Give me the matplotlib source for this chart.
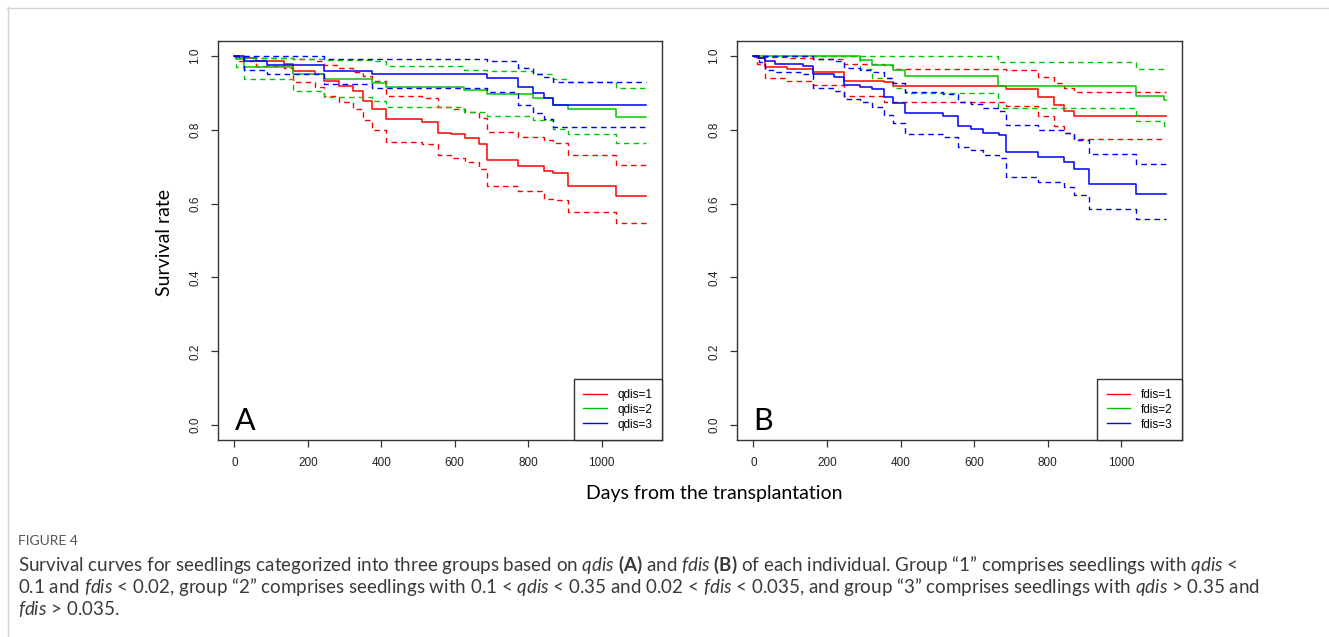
import numpy as np
import matplotlib.pyplot as plt
from matplotlib.lines import Line2D

# kaplan-meier estimates (days, survival, upper / lower 95% CI)
# panel A - qdis groups
a1_days = [0, 12, 59, 134, 160, 219, 245, 285, 322, 351, 376, 412, 512, 554, 591, 627, 666, 687, 772, 842, 868, 910, 1039]
a1_surv = [1.0, 0.993, 0.986, 0.979, 0.958, 0.95, 0.931, 0.918, 0.904, 0.877, 0.855, 0.828, 0.82, 0.792, 0.787, 0.778, 0.76, 0.717, 0.702, 0.688, 0.683, 0.648, 0.62]
a1_upper = [1.0, 0.998, 0.995, 0.993, 0.99, 0.985, 0.975, 0.966, 0.956, 0.945, 0.932, 0.892, 0.886, 0.862, 0.857, 0.849, 0.832, 0.795, 0.781, 0.772, 0.763, 0.731, 0.705]
a1_lower = [1.0, 0.985, 0.972, 0.966, 0.928, 0.916, 0.892, 0.874, 0.857, 0.825, 0.8, 0.767, 0.761, 0.731, 0.724, 0.713, 0.693, 0.647, 0.633, 0.613, 0.61, 0.577, 0.547]

a2_days = [0, 5, 27, 160, 245, 376, 412, 625, 687, 813, 868, 910, 1039]
a2_surv = [1.0, 0.99, 0.969, 0.95, 0.937, 0.927, 0.916, 0.907, 0.896, 0.885, 0.866, 0.855, 0.835]
a2_upper = [1.0, 1.0, 0.993, 0.99, 0.988, 0.985, 0.973, 0.961, 0.959, 0.952, 0.937, 0.928, 0.912]
a2_lower = [1.0, 0.97, 0.936, 0.904, 0.889, 0.877, 0.862, 0.848, 0.837, 0.826, 0.803, 0.787, 0.763]

a3_days = [0, 27, 90, 245, 376, 687, 772, 813, 842, 868]
a3_surv = [1.0, 0.986, 0.975, 0.959, 0.95, 0.941, 0.916, 0.898, 0.885, 0.866]
a3_upper = [1.0, 1.0, 1.0, 0.99, 0.99, 0.986, 0.968, 0.952, 0.943, 0.93]
a3_lower = [1.0, 0.961, 0.95, 0.923, 0.913, 0.901, 0.868, 0.844, 0.828, 0.808]

# panel B - fdis groups
b1_days = [0, 10, 32, 90, 163, 247, 355, 379, 687, 774, 816, 843, 870]
b1_surv = [1.0, 0.993, 0.969, 0.964, 0.956, 0.932, 0.928, 0.917, 0.911, 0.889, 0.866, 0.851, 0.836]
b1_upper = [1.0, 1.0, 0.997, 0.995, 0.991, 0.977, 0.975, 0.965, 0.961, 0.943, 0.927, 0.912, 0.901]
b1_lower = [1.0, 0.978, 0.941, 0.931, 0.921, 0.892, 0.876, 0.874, 0.864, 0.837, 0.81, 0.792, 0.776]

b2_days = [0, 289, 323, 378, 413, 665, 1039, 1115]
b2_surv = [1.0, 0.988, 0.974, 0.961, 0.946, 0.919, 0.892, 0.88]
b2_upper = [1.0, 1.0, 1.0, 1.0, 1.0, 0.982, 0.964, 0.962]
b2_lower = [1.0, 0.965, 0.939, 0.914, 0.898, 0.859, 0.824, 0.81]

b3_days = [0, 14, 32, 59, 135, 163, 219, 247, 289, 323, 355, 379, 413, 515, 556, 592, 625, 667, 687, 774, 843, 870, 911, 1039]
b3_surv = [1.0, 0.993, 0.985, 0.979, 0.973, 0.95, 0.943, 0.922, 0.916, 0.909, 0.889, 0.871, 0.844, 0.837, 0.81, 0.803, 0.79, 0.785, 0.74, 0.726, 0.713, 0.693, 0.654, 0.627]
b3_upper = [1.0, 1.0, 1.0, 1.0, 1.0, 0.99, 0.985, 0.966, 0.962, 0.956, 0.939, 0.925, 0.902, 0.897, 0.876, 0.869, 0.858, 0.851, 0.812, 0.8, 0.79, 0.772, 0.733, 0.708]
b3_lower = [1.0, 0.984, 0.961, 0.957, 0.952, 0.912, 0.905, 0.883, 0.874, 0.862, 0.839, 0.817, 0.787, 0.781, 0.753, 0.745, 0.731, 0.723, 0.672, 0.659, 0.645, 0.624, 0.584, 0.557]

last_day = 1120
group_colors = ['#ff0000', '#00c800', '#0000ff']
a_labels = ['qdis=1', 'qdis=2', 'qdis=3']
b_labels = ['fdis=1', 'fdis=2', 'fdis=3']
x_ticks = [0, 200, 400, 600, 800, 1000]
y_ticks = [0.0, 0.2, 0.4, 0.6, 0.8, 1.0]

tick_font = 'Liberation Sans'
label_font = 'Lato'
caption_font = 'Lato'

plt.rcParams['mathtext.fontset'] = 'custom'
plt.rcParams['mathtext.rm'] = caption_font
plt.rcParams['mathtext.it'] = caption_font + ':italic'
plt.rcParams['mathtext.bf'] = caption_font + ':bold'

W, H = 1329, 637
fig = plt.figure(figsize=(W / 100, H / 100), dpi=100)


def km_step(ax, days, vals, color, dashed=False):
    # extend the last value to the end of follow-up
    x = list(days) + [last_day]
    y = list(vals) + [vals[-1]]
    if dashed:
        ax.step(x, y, where='post', color=color, lw=1.0, dashes=(4, 3))
    else:
        ax.step(x, y, where='post', color=color, lw=1.1)


def draw_panel(ax, groups, labels, letter):
    for (days, surv, upper, lower), col in zip(groups, group_colors):
        km_step(ax, days, upper, col, dashed=True)
        km_step(ax, days, lower, col, dashed=True)
        km_step(ax, days, surv, col)

    ax.set_xlim(-44.8, 1164.8)
    ax.set_ylim(-0.04, 1.04)
    ax.set_xticks(x_ticks)
    ax.set_xticklabels([str(t) for t in x_ticks], fontfamily=tick_font, fontsize=8.5)
    ax.set_yticks(y_ticks)
    ax.set_yticklabels(['%.1f' % v for v in y_ticks], fontfamily=tick_font, fontsize=8.5,
                       rotation=90, va='center')
    ax.tick_params(axis='both', direction='out', length=5, width=0.9, color='#333333',
                   labelcolor='#222222')
    ax.tick_params(axis='x', pad=7)
    ax.tick_params(axis='y', pad=7)
    for sp in ax.spines.values():
        sp.set_color('#333333')
        sp.set_linewidth(1.0)

    ax.text(0, -0.012, letter, fontfamily=label_font, fontsize=22, ha='left', va='baseline',
            color='black')

    handles = [Line2D([], [], color=c, lw=1.0) for c in group_colors]
    leg = ax.legend(handles, labels, loc='lower right', borderaxespad=0, fancybox=False,
                    framealpha=1, edgecolor='#333333',
                    prop={'family': tick_font, 'size': 8.5},
                    handlelength=2.0, handletextpad=0.9, labelspacing=0.25, borderpad=0.8)
    leg.get_frame().set_linewidth(1.0)


ax_a = fig.add_axes([218 / W, 1 - 440 / H, 444 / W, 399 / H])
ax_b = fig.add_axes([737 / W, 1 - 440 / H, 445 / W, 399 / H])

draw_panel(ax_a, [(a1_days, a1_surv, a1_upper, a1_lower),
                  (a2_days, a2_surv, a2_upper, a2_lower),
                  (a3_days, a3_surv, a3_upper, a3_lower)], a_labels, 'A')
draw_panel(ax_b, [(b1_days, b1_surv, b1_upper, b1_lower),
                  (b2_days, b2_surv, b2_upper, b2_lower),
                  (b3_days, b3_surv, b3_upper, b3_lower)], b_labels, 'B')

# shared axis titles
fig.text(165 / W, 1 - 242 / H, 'Survival rate', rotation=90, ha='center', va='center',
         fontfamily=label_font, fontsize=14, color='black')
fig.text(714 / W, 1 - 493 / H, 'Days from the transplantation', ha='center', va='center',
         fontfamily=label_font, fontsize=14, color='black')

# page frame lines
fig.add_artist(Line2D([7 / W, 1], [1 - 7.5 / H, 1 - 7.5 / H], color='#d4d4d4', lw=1.0))
fig.add_artist(Line2D([7.5 / W, 7.5 / W], [0, 1 - 7 / H], color='#d4d4d4', lw=1.0))

# caption
fig.text(18 / W, 1 - 541 / H, 'FIGURE 4', ha='left', va='center', fontfamily=caption_font,
         fontsize=10, color='#555555')
cap_lines = [
    'Survival curves for seedlings categorized into three groups based on $\\mathit{qdis}$ '
    '$\\mathbf{(A)}$ and $\\mathit{fdis}$ $\\mathbf{(B)}$ of each individual. Group \u201c1\u201d '
    'comprises seedlings with $\\mathit{qdis}$ <',
    '0.1 and $\\mathit{fdis}$ < 0.02, group \u201c2\u201d comprises seedlings with 0.1 < '
    '$\\mathit{qdis}$ < 0.35 and 0.02 < $\\mathit{fdis}$ < 0.035, and group \u201c3\u201d '
    'comprises seedlings with $\\mathit{qdis}$ > 0.35 and',
    '$\\mathit{fdis}$ > 0.035.',
]
for i, line in enumerate(cap_lines):
    fig.text(18 / W, 1 - (565 + 22 * i) / H, line, ha='left', va='center',
             fontfamily=caption_font, fontsize=13.5, color='#3a3a3a')

fig.savefig('out.png', dpi=100)
